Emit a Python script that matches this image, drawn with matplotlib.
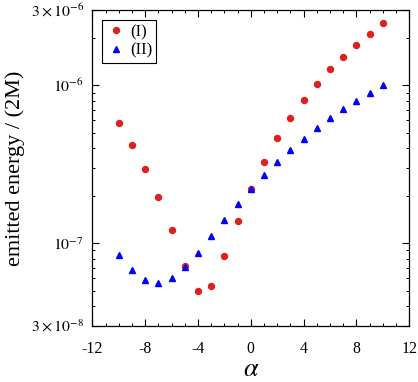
import numpy as np
import matplotlib
matplotlib.use("Agg")
import matplotlib.pyplot as plt
from matplotlib.ticker import FixedLocator, FixedFormatter, MultipleLocator, LogLocator, NullFormatter

plt.rcParams['font.family'] = ['Liberation Serif', 'DejaVu Serif']
plt.rcParams['mathtext.fontset'] = 'stix'

alpha = np.arange(-10, 11)
energy_I = [5.73e-7, 4.21e-7, 2.96e-7, 1.95e-7, 1.21e-7, 7.22e-8, 4.96e-8, 5.36e-8,
            8.32e-8, 1.39e-7, 2.22e-7, 3.29e-7, 4.61e-7, 6.22e-7, 8.12e-7, 1.02e-6,
            1.26e-6, 1.52e-6, 1.81e-6, 2.12e-6, 2.47e-6]
energy_II = [8.40e-8, 6.79e-8, 5.88e-8, 5.60e-8, 5.99e-8, 7.03e-8, 8.69e-8, 1.11e-7,
             1.41e-7, 1.77e-7, 2.21e-7, 2.70e-7, 3.26e-7, 3.88e-7, 4.57e-7, 5.33e-7,
             6.17e-7, 7.06e-7, 8.00e-7, 8.99e-7, 1.01e-6]
y_ticks = [3e-8, 1e-7, 1e-6, 3e-6]
y_ticklabels = [r'$3\times10^{-8}$', r'$10^{-7}$', r'$10^{-6}$', r'$3\times10^{-6}$']
x_ticks = [-12, -8, -4, 0, 4, 8, 12]

fig = plt.figure(figsize=(4.18, 3.82), dpi=100)
ax = fig.add_axes([0.221, 0.147, 0.758, 0.827])

ax.plot(alpha, energy_I, 'o', color='#e01f1f', ms=4.3, label='(I)')
ax.plot(alpha, energy_II, '^', color='#0000ff', ms=4.5, label='(II)')

ax.set_yscale('log')
ax.set_xlim(-12, 12)
ax.set_ylim(3e-8, 3e-6)
ax.yaxis.set_major_locator(FixedLocator(y_ticks))
ax.yaxis.set_major_formatter(FixedFormatter(y_ticklabels))
ax.yaxis.set_minor_locator(LogLocator(base=10, subs=np.arange(2, 10)))
ax.yaxis.set_minor_formatter(NullFormatter())
ax.set_xticks(x_ticks)
ax.set_xticklabels([str(v) for v in x_ticks])
ax.xaxis.set_minor_locator(MultipleLocator(1))

ax.tick_params(which='both', direction='in', top=True, right=True, labelsize=11.3)
ax.tick_params(which='major', length=5, width=0.8)
ax.tick_params(which='minor', length=2.5, width=0.7)
ax.tick_params(axis='x', which='major', pad=11)
ax.tick_params(axis='y', which='major', pad=6)
for s in ax.spines.values():
    s.set_linewidth(0.9)

ax.set_ylabel('emitted energy / (2M)', fontsize=16, labelpad=4)
ax.set_xlabel(r'$\alpha$', fontsize=19, labelpad=1)

leg = ax.legend(loc='upper left', fontsize=12, fancybox=False, edgecolor='black',
                framealpha=1, handletextpad=0.2, borderpad=0.25, handlelength=1.2,
                labelspacing=0.15, bbox_to_anchor=(0.005, 0.995))
leg.get_frame().set_linewidth(0.8)

fig.savefig('out.png', dpi=100)
